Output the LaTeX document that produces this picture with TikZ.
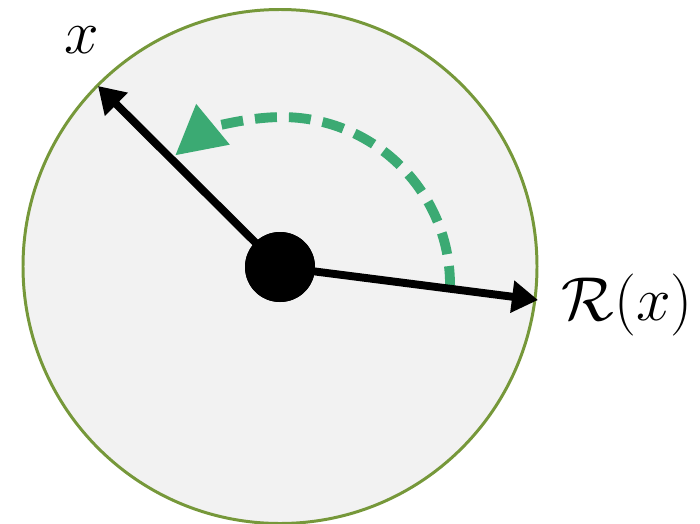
\documentclass[tikz,border=0pt]{standalone}
\usetikzlibrary{arrows.meta, positioning}
\definecolor{ringgreen}{HTML}{76983A}
\definecolor{diskgray}{HTML}{F2F2F2}
\definecolor{turngreen}{HTML}{3BAA73}

\begin{document}
\begin{tikzpicture}[
    disk/.style={circle, draw=ringgreen, fill=diskgray, line width=1.7pt, minimum size=10.28cm, inner sep=0pt},
    dot/.style={circle, fill=black, minimum size=1.4cm, inner sep=0pt},
    vec/.style={draw, line width=4.5pt, -{Triangle[length=0.52cm, width=0.62cm]}},
    turn/.style={draw=turngreen, line width=5.6pt, dash pattern=on 0.44cm off 0.24cm, -{Triangle[length=0.98cm, width=1.0cm, fill=turngreen]}},
    lbl/.style={font=\Huge, scale=1.42}
]
\useasboundingbox (0,0) rectangle (14,-10.48);

% Nodes
\node[disk] (ring) at (5.6,-5.33) {};
\node[dot] (c) at (5.6,-5.34) {};
\coordinate (xtip) at (1.96,-1.72);
\coordinate (rtip) at (10.76,-6.0);
\coordinate (arcstart) at (9.0,-5.76);
\node[lbl] (xlbl) at (1.64,-0.8) {$x$};
\node[lbl] (rlbl) at (12.54,-6.1) {$\mathcal{R}(x)$};

% Rotation
\draw[turn] (arcstart) arc[start angle=-1, end angle=129.5, radius=3.36cm];

% Vectors
\draw[vec] (c.center) -- (xtip);
\draw[vec] (c.center) -- (rtip);
\node[dot] at (c) {};

\end{tikzpicture}
\end{document}
